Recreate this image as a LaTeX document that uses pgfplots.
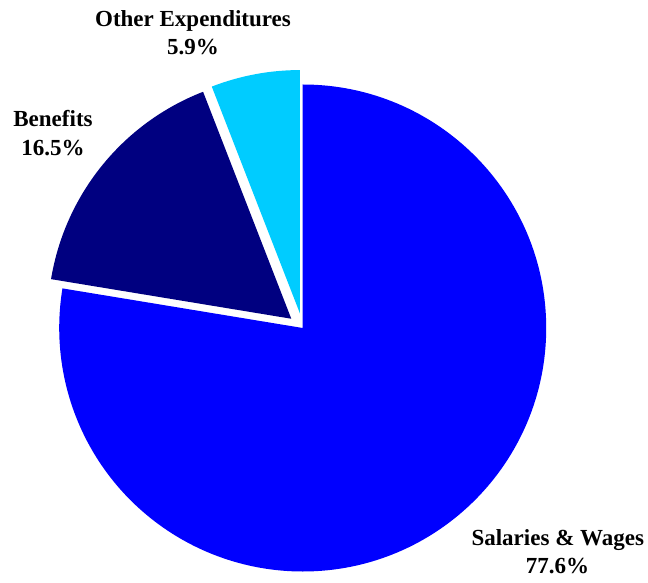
\documentclass[border=0pt]{standalone}
\usepackage{pgfplots}
\pgfplotsset{compat=1.18}
\usepackage{fontspec}
\setmainfont{Liberation Serif}
\definecolor{salblue}{HTML}{0000FF}
\definecolor{benavy}{HTML}{000080}
\definecolor{othcyan}{HTML}{00CCFF}
\begin{document}
\begin{tikzpicture}
\begin{axis}[
  width=648pt, height=582pt, scale only axis,
  xmin=0, xmax=648, ymin=0, ymax=582,
  hide axis, clip=false,
]
\path (axis cs:0,0) rectangle (axis cs:648,582);
% Salaries & Wages 77.6
\fill[salblue] (axis cs:302.7,254) -- ++(90:243.5pt)
  arc[start angle=90, end angle={90-3.6*77.6}, radius=243.5pt] -- cycle;
% Benefits 16.5 (exploded)
\fill[benavy] (axis cs:302.7,254) ++({90-3.6*(77.6+16.5/2)}:14.7pt)
  -- ++({90-3.6*77.6}:243.5pt)
  arc[start angle={90-3.6*77.6}, end angle={90-3.6*(77.6+16.5)}, radius=243.5pt] -- cycle;
% Other Expenditures 5.9 (exploded)
\fill[othcyan] (axis cs:302.7,254) ++({90-3.6*(77.6+16.5+5.9/2)}:14.7pt)
  -- ++({90-3.6*(77.6+16.5)}:243.5pt)
  arc[start angle={90-3.6*(77.6+16.5)}, end angle={90-3.6*100}, radius=243.5pt] -- cycle;
\begin{scope}[every node/.style={font=\fontsize{23}{29}\selectfont\bfseries, inner sep=0pt, anchor=base}]
\node at (axis cs:193,555.5) {Other Expenditures};
\node at (axis cs:193,527) {5.9\%};
\node at (axis cs:53,455) {Benefits};
\node at (axis cs:53,426.3) {16.5\%};
\node at (axis cs:557.8,37) {Salaries \& Wages};
\node at (axis cs:557.5,8.7) {77.6\%};
\end{scope}
\end{axis}
\end{tikzpicture}
\end{document}
